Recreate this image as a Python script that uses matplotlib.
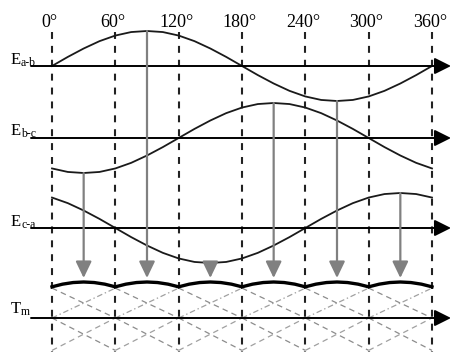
import matplotlib
matplotlib.use('Agg')
import matplotlib.pyplot as plt
import numpy as np

plt.rcParams['font.family'] = ['Liberation Serif', 'DejaVu Serif']
plt.rcParams['lines.scale_dashes'] = False

# Ângulos (graus) e tensões de linha (p.u.)
angles = list(range(0, 361, 15))
e_ab = [0, .26, .5, .71, .87, .97, 1, .97, .87, .71, .5, .26, 0,
        -.26, -.5, -.71, -.87, -.97, -1, -.97, -.87, -.71, -.5, -.26, 0]
e_bc = [-.87, -.97, -1, -.97, -.87, -.71, -.5, -.26, 0, .26, .5, .71, .87,
        .97, 1, .97, .87, .71, .5, .26, 0, -.26, -.5, -.71, -.87]
e_ca = [.87, .71, .5, .26, 0, -.26, -.5, -.71, -.87, -.97, -1, -.97, -.87,
        -.71, -.5, -.26, 0, .26, .5, .71, .87, .97, 1, .97, .87]

# Torque Tm (p.u.), passos de 10 graus
tm_angles = list(range(0, 361, 10))
tm = [.866, .94, .985, 1, .985, .94] * 6 + [.866]

# Setas: ângulo, curva de origem e valor nessa curva
arrow_angles = [30, 90, 150, 210, 270, 330]
arrow_src = ['bc', 'ab', 'ca', 'bc', 'ab', 'ca']
arrow_vals = [-1, 1, -1, 1, -1, 1]

tick_angles = [0, 60, 120, 180, 240, 300, 360]
tick_labels = ['0°', '60°', '120°', '180°', '240°', '300°', '360°']

# Níveis das retas tracejadas sob Tm (p.u. de Tm)
lattice_top = 0.83
lattice_bot = -0.9

# ---- layout (coordenadas em pixels no eixo y) ----
base = {'ab': 66, 'bc': 138, 'ca': 228, 'tm': 318}
amp = 35
amp_tm = 36
tip_y = 278


def px2deg(p):
    return (p - 52) * 360 / 380


fig = plt.figure(figsize=(4.51, 3.52), dpi=100)
ax = fig.add_axes([0, 0, 1, 1])
ax.set_xlim(px2deg(0), px2deg(451))
ax.set_ylim(352, 0)
ax.axis('off')

# linhas verticais tracejadas
for a in tick_angles:
    ax.plot([a, a], [32, 352], color='#222222', lw=1.5, dashes=(5, 5))
for a, lab in zip(tick_angles, tick_labels):
    ax.text(a - 2, 27, lab, ha='center', va='baseline', fontsize=13)

# eixos horizontais com seta
for k in ['ab', 'bc', 'ca', 'tm']:
    y = base[k]
    ax.annotate('', xy=(px2deg(451), y), xytext=(px2deg(31), y),
                arrowprops=dict(arrowstyle='-|>,head_length=1.0,head_width=0.5',
                                color='black', lw=1.4, mutation_scale=10,
                                shrinkA=0, shrinkB=0))

# tensões
curves = {'ab': e_ab, 'bc': e_bc, 'ca': e_ca}
for k, vals in curves.items():
    y = base[k] - amp * np.array(vals)
    ax.plot(angles, y, color='#1a1a1a', lw=1.3)

# retas auxiliares (tracejadas) de Tm
yt = base['tm'] - amp_tm * lattice_top
yb = base['tm'] - amp_tm * lattice_bot
y0 = base['tm']
for a in tick_angles[:-1]:
    ax.plot([a, a + 60], [yt, y0], color='#8c8c8c', lw=0.9, dashes=(4, 3))
    ax.plot([a, a + 60], [y0, yt], color='#a0a0a0', lw=0.9, dashes=(4, 2, 1, 2))
    ax.plot([a, a + 60], [y0, yb], color='#8c8c8c', lw=0.9, dashes=(4, 3))
    ax.plot([a, a + 60], [yb, y0], color='#a0a0a0', lw=0.9, dashes=(4, 3))

# torque resultante
ax.plot(tm_angles, base['tm'] - amp_tm * np.array(tm), color='black', lw=2.4)

# setas cinzas
for a, src, v in zip(arrow_angles, arrow_src, arrow_vals):
    y_start = base[src] - amp * v
    ax.annotate('', xy=(a, tip_y), xytext=(a, y_start),
                arrowprops=dict(arrowstyle='-|>,head_length=1.0,head_width=0.48',
                                color='#808080', lw=1.6, mutation_scale=10,
                                shrinkA=0, shrinkB=0))

# rótulos
labels = [('E', 'a-b', base['ab'] - 2), ('E', 'b-c', base['bc'] - 3),
          ('E', 'c-a', base['ca'] - 2), ('T', 'm', base['tm'] - 5)]
for main, sub, y in labels:
    ax.text(px2deg(11), y, main, ha='left', va='baseline', fontsize=12)
    ax.text(px2deg(21), y + 2, sub, ha='left', va='baseline', fontsize=8.5)

fig.savefig('out.png', dpi=100)
